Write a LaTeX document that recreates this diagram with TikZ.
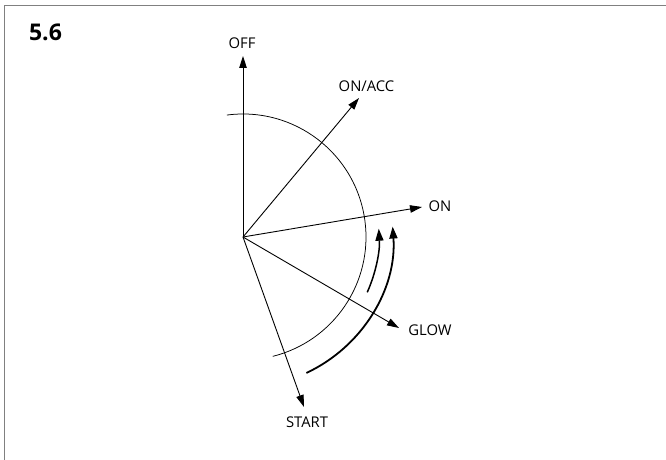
\documentclass[tikz,border=0pt]{standalone}
\usepackage{fontspec}
\setmainfont{Open Sans}
\usetikzlibrary{arrows.meta}
\definecolor{framegray}{HTML}{808080}
\newcommand{\lblfont}{\fontsize{14.8}{16}\selectfont}
\tikzset{
  ray/.style={line width=0.9pt, -{Triangle[length=12pt,width=7.5pt]}},
  turn/.style={line width=1.8pt, -{Triangle[length=12pt,width=8pt]}},
  lbl/.style={inner sep=0pt},
  scale arc/.style={line width=0.75pt}
}
\begin{document}
\begin{tikzpicture}[x=1pt,y=1pt]
\useasboundingbox (0,0) rectangle (666,459);
\fill[white] (0,0) rectangle (666,459);
\draw[framegray, line width=1.6pt] (4.5,-10) -- (4.5,453.5) -- (680,453.5);
\node[inner sep=0pt] (title) at (45.5,427) {\fontsize{23}{25}\selectfont\bfseries 5.6};

\coordinate (c) at (243,222);
\coordinate (toff) at (243,403);
\coordinate (tacc) at (359,361);
\coordinate (ton) at (422,252);
\coordinate (tglow) at (399,131);
\coordinate (tstart) at (304,52);

\draw[scale arc] (c) ++(97.5:123) arc[start angle=97.5, end angle=-76, radius=123];

\draw[ray] (c) -- (toff);
\draw[ray] (c) -- (tacc);
\draw[ray] (c) -- (ton);
\draw[ray] (c) -- (tglow);
\draw[ray] (c) -- (tstart);

\draw[turn] (c) ++(-65:150) arc[start angle=-65, end angle=4, radius=150];
\draw[turn, line width=1.5pt] (c) ++(-24:136) arc[start angle=-24, end angle=3.5, radius=136];

\node[lbl] (loff) at (242,416) {\lblfont OFF};
\node[lbl] (lacc) at (366.5,373) {\lblfont ON/ACC};
\node[lbl] (lon) at (440,253) {\lblfont ON};
\node[lbl] (lglow) at (430,129) {\lblfont GLOW};
\node[lbl] (lstart) at (307,37) {\lblfont START};
\end{tikzpicture}
\end{document}
